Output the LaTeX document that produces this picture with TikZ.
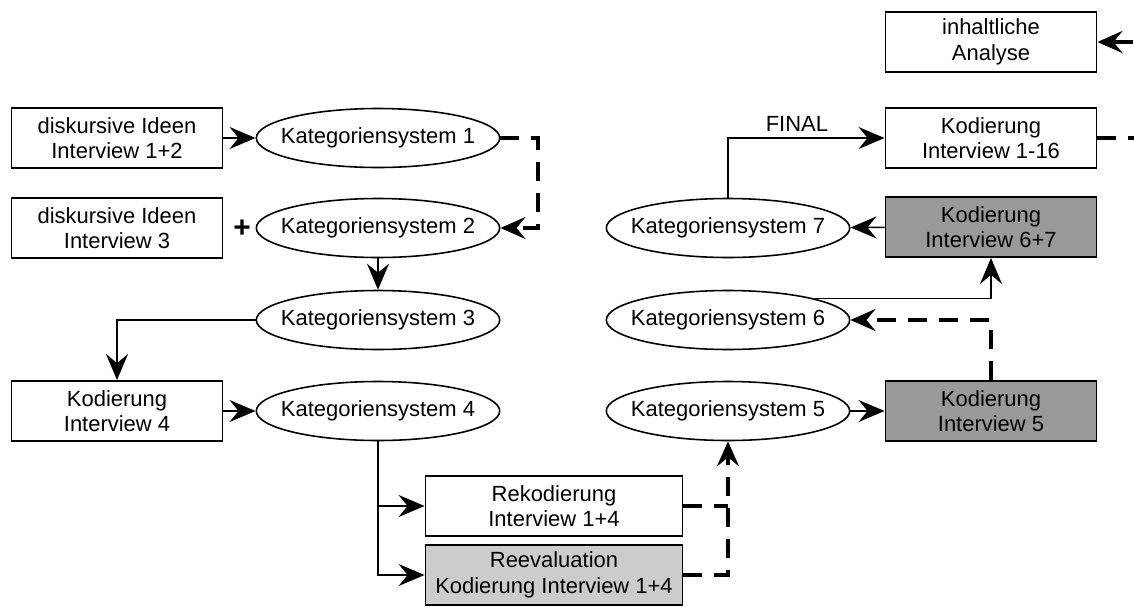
\documentclass[tikz,border=0pt]{standalone}
\usepackage{fontspec}
\setmainfont{Liberation Sans}
\usetikzlibrary{shapes.geometric,arrows.meta}
\definecolor{hellgrau}{HTML}{CCCCCC}
\definecolor{dunkelgrau}{HTML}{999999}
\begin{document}
\begin{tikzpicture}[x=0.02cm,y=-0.02cm,
  font=\fontsize{12.5}{14.5}\selectfont,
  box/.style={draw,line width=1.1pt,align=center,minimum width=4.22cm,minimum height=1.2cm,inner sep=0},
  kat/.style={draw,ellipse,line width=0.9pt,minimum width=4.62cm,minimum height=1.18cm,inner xsep=-0.22cm,inner ysep=0},
  pfeil/.style={line width=0.85pt,-{Stealth[length=5.2mm,width=4.4mm,inset=1.8mm]}},
  strich/.style={line width=2.3pt,dash pattern=on 0.38cm off 0.24cm,-{Stealth[length=5mm,width=4.4mm,inset=1.8mm]}}]
\useasboundingbox (0,0) rectangle (1134,606);
% linke Spalte
\node[box] (ideen12) at (117,138) {diskursive Ideen\\Interview 1+2};
\node[box] (ideen3) at (117,228) {diskursive Ideen\\Interview 3};
\node[font=\fontsize{17}{17}\selectfont\bfseries] (plus) at (242,229) {+};
\node[box] (kod4) at (117,411) {Kodierung\\Interview 4};
\node[kat] (kat1) at (378,138) {Kategoriensystem 1};
\node[kat] (kat2) at (378,228) {Kategoriensystem 2};
\node[kat] (kat3) at (378,320) {Kategoriensystem 3};
\node[kat] (kat4) at (378,411) {Kategoriensystem 4};
% unten
\node[box,minimum width=5.14cm] (rekod) at (554,506) {Rekodierung\\Interview 1+4};
\node[box,minimum width=5.14cm,fill=hellgrau] (reeval) at (554,575) {Reevaluation\\Kodierung Interview 1+4};
% rechte Spalte
\node[kat] (kat5) at (728,411) {Kategoriensystem 5};
\node[kat] (kat6) at (728,320) {Kategoriensystem 6};
\node[kat] (kat7) at (728,228) {Kategoriensystem 7};
\node[box,fill=dunkelgrau] (kod5) at (991,411) {Kodierung\\Interview 5};
\node[box,fill=dunkelgrau] (kod67) at (991,227) {Kodierung\\Interview 6+7};
\node[box] (kod116) at (991,138) {Kodierung\\Interview 1-16};
\node[box] (analyse) at (991,42) {inhaltliche\\Analyse};
\coordinate (eck1) at (538,138);
\coordinate (knick) at (kat5.south |- rekod.east);
\coordinate (aussen) at (1160,138);
% Verbindungen
\draw[pfeil] (ideen12) -- (kat1);
\draw[strich] (kat1.east) -- (eck1) |- (kat2.east);
\draw[pfeil] (kat2) -- (kat3);
\draw[pfeil] (kat3.west) -| (kod4.north);
\draw[pfeil] (kod4) -- (kat4);
\draw[pfeil] (kat4.south) |- (rekod.west);
\draw[pfeil] (kat4.south) |- (reeval.west);
\draw[strich,-] (rekod.east) -- (knick);
\draw[strich] (reeval.east) -| (kat5.south);
\draw[pfeil] (kat5) -- (kod5);
\draw[strich] (kod5.north) |- (kat6.east);
\draw[pfeil] (kat6.north east) -| (kod67.south);
\draw[pfeil] (kod67) -- (kat7);
\draw[pfeil] (kat7.north) |- node[pos=0.72,above] {FINAL} (kod116.west);
\draw[strich] (kod116.east) -- (aussen) |- (analyse.east);
\end{tikzpicture}
\end{document}
